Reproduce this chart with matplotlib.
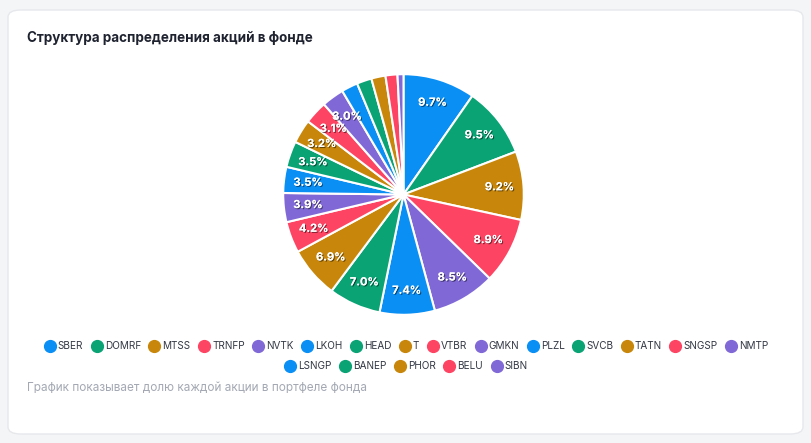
import matplotlib.pyplot as plt
import matplotlib.patheffects as pe
from matplotlib.patches import FancyBboxPatch
from matplotlib.lines import Line2D

plt.rcParams['font.family'] = ['Inter', 'DejaVu Sans']

# данные
tickers = ['SBER', 'DOMRF', 'MTSS', 'TRNFP', 'NVTK', 'LKOH', 'HEAD', 'T', 'VTBR', 'GMKN',
           'PLZL', 'SVCB', 'TATN', 'SNGSP', 'NMTP', 'LSNGP', 'BANEP', 'PHOR', 'BELU', 'SIBN']
shares = [9.7, 9.5, 9.2, 8.9, 8.5, 7.4, 7.0, 6.9, 4.2, 3.9,
          3.5, 3.5, 3.2, 3.1, 3.0, 2.2, 2.0, 1.9, 1.6, 0.8]
palette = ['#0a8ff5', '#0aa374', '#c8870a', '#fd4563', '#8069d6']
colors = [palette[i % 5] for i in range(len(tickers))]

title = 'Структура распределения акций в фонде'
note = 'График показывает долю каждой акции в портфеле фонда'

W, H = 812, 443
fig = plt.figure(figsize=(W / 100, H / 100), dpi=100)
fig.patch.set_facecolor('#f4f5f7')

# карточка
card = FancyBboxPatch((8 / W, 9 / H), 795 / W, 424 / H,
                      boxstyle='round,pad=0,rounding_size=0.016',
                      transform=fig.transFigure, facecolor='white',
                      edgecolor='#e6e8ec', linewidth=1, zorder=-10)
fig.patches.append(card)

fig.text(27 / W, 1 - 38 / H, title, fontsize=9.7, fontweight='bold',
         color='#1f2330', va='center', ha='left')
fig.text(27 / W, 1 - 388 / H, note, fontsize=8.5, color='#a3a8b3',
         va='center', ha='left')

# пирог
cx, cy, r = 403.5, 194.5, 121.5
ax = fig.add_axes([(cx - r) / W, (H - cy - r) / H, 2 * r / W, 2 * r / H])
ax.set_zorder(5)
wedges, texts, autotexts = ax.pie(
    shares, colors=colors, startangle=90, counterclock=False,
    autopct=lambda p: f'{p:.1f}%' if p >= 2.95 else '',
    pctdistance=0.8, radius=1,
    wedgeprops=dict(edgecolor='white', linewidth=1.5))
for t in autotexts:
    t.set_color('white')
    t.set_fontsize(8)
    t.set_fontweight('bold')
    t.set_path_effects([pe.withSimplePatchShadow(offset=(0.8, -0.8), shadow_rgbFace='black', alpha=0.5),
                        pe.Normal()])
ax.set_xlim(-1.01, 1.01)
ax.set_ylim(-1.01, 1.01)
ax.set_aspect('equal')
ax.axis('off')

# легенда в две строки
def handles(names, cols):
    return [Line2D([], [], marker='o', linestyle='', markersize=8.5,
                   markerfacecolor=c, markeredgecolor=c, label=n)
            for n, c in zip(names, cols)]

row1 = fig.legend(handles=handles(tickers[:15], colors[:15]), loc='center',
                  bbox_to_anchor=(406 / W, 1 - 346 / H), ncol=15, frameon=False,
                  fontsize=7.2, handletextpad=0.2, columnspacing=0.75,
                  handlelength=1.2, borderpad=0)
row2 = fig.legend(handles=handles(tickers[15:], colors[15:]), loc='center',
                  bbox_to_anchor=(406 / W, 1 - 366 / H), ncol=5, frameon=False,
                  fontsize=7.2, handletextpad=0.2, columnspacing=0.75,
                  handlelength=1.2, borderpad=0)
for lg in (row1, row2):
    for t in lg.get_texts():
        t.set_color('#333844')

fig.savefig('out.png', dpi=100, facecolor=fig.get_facecolor())
